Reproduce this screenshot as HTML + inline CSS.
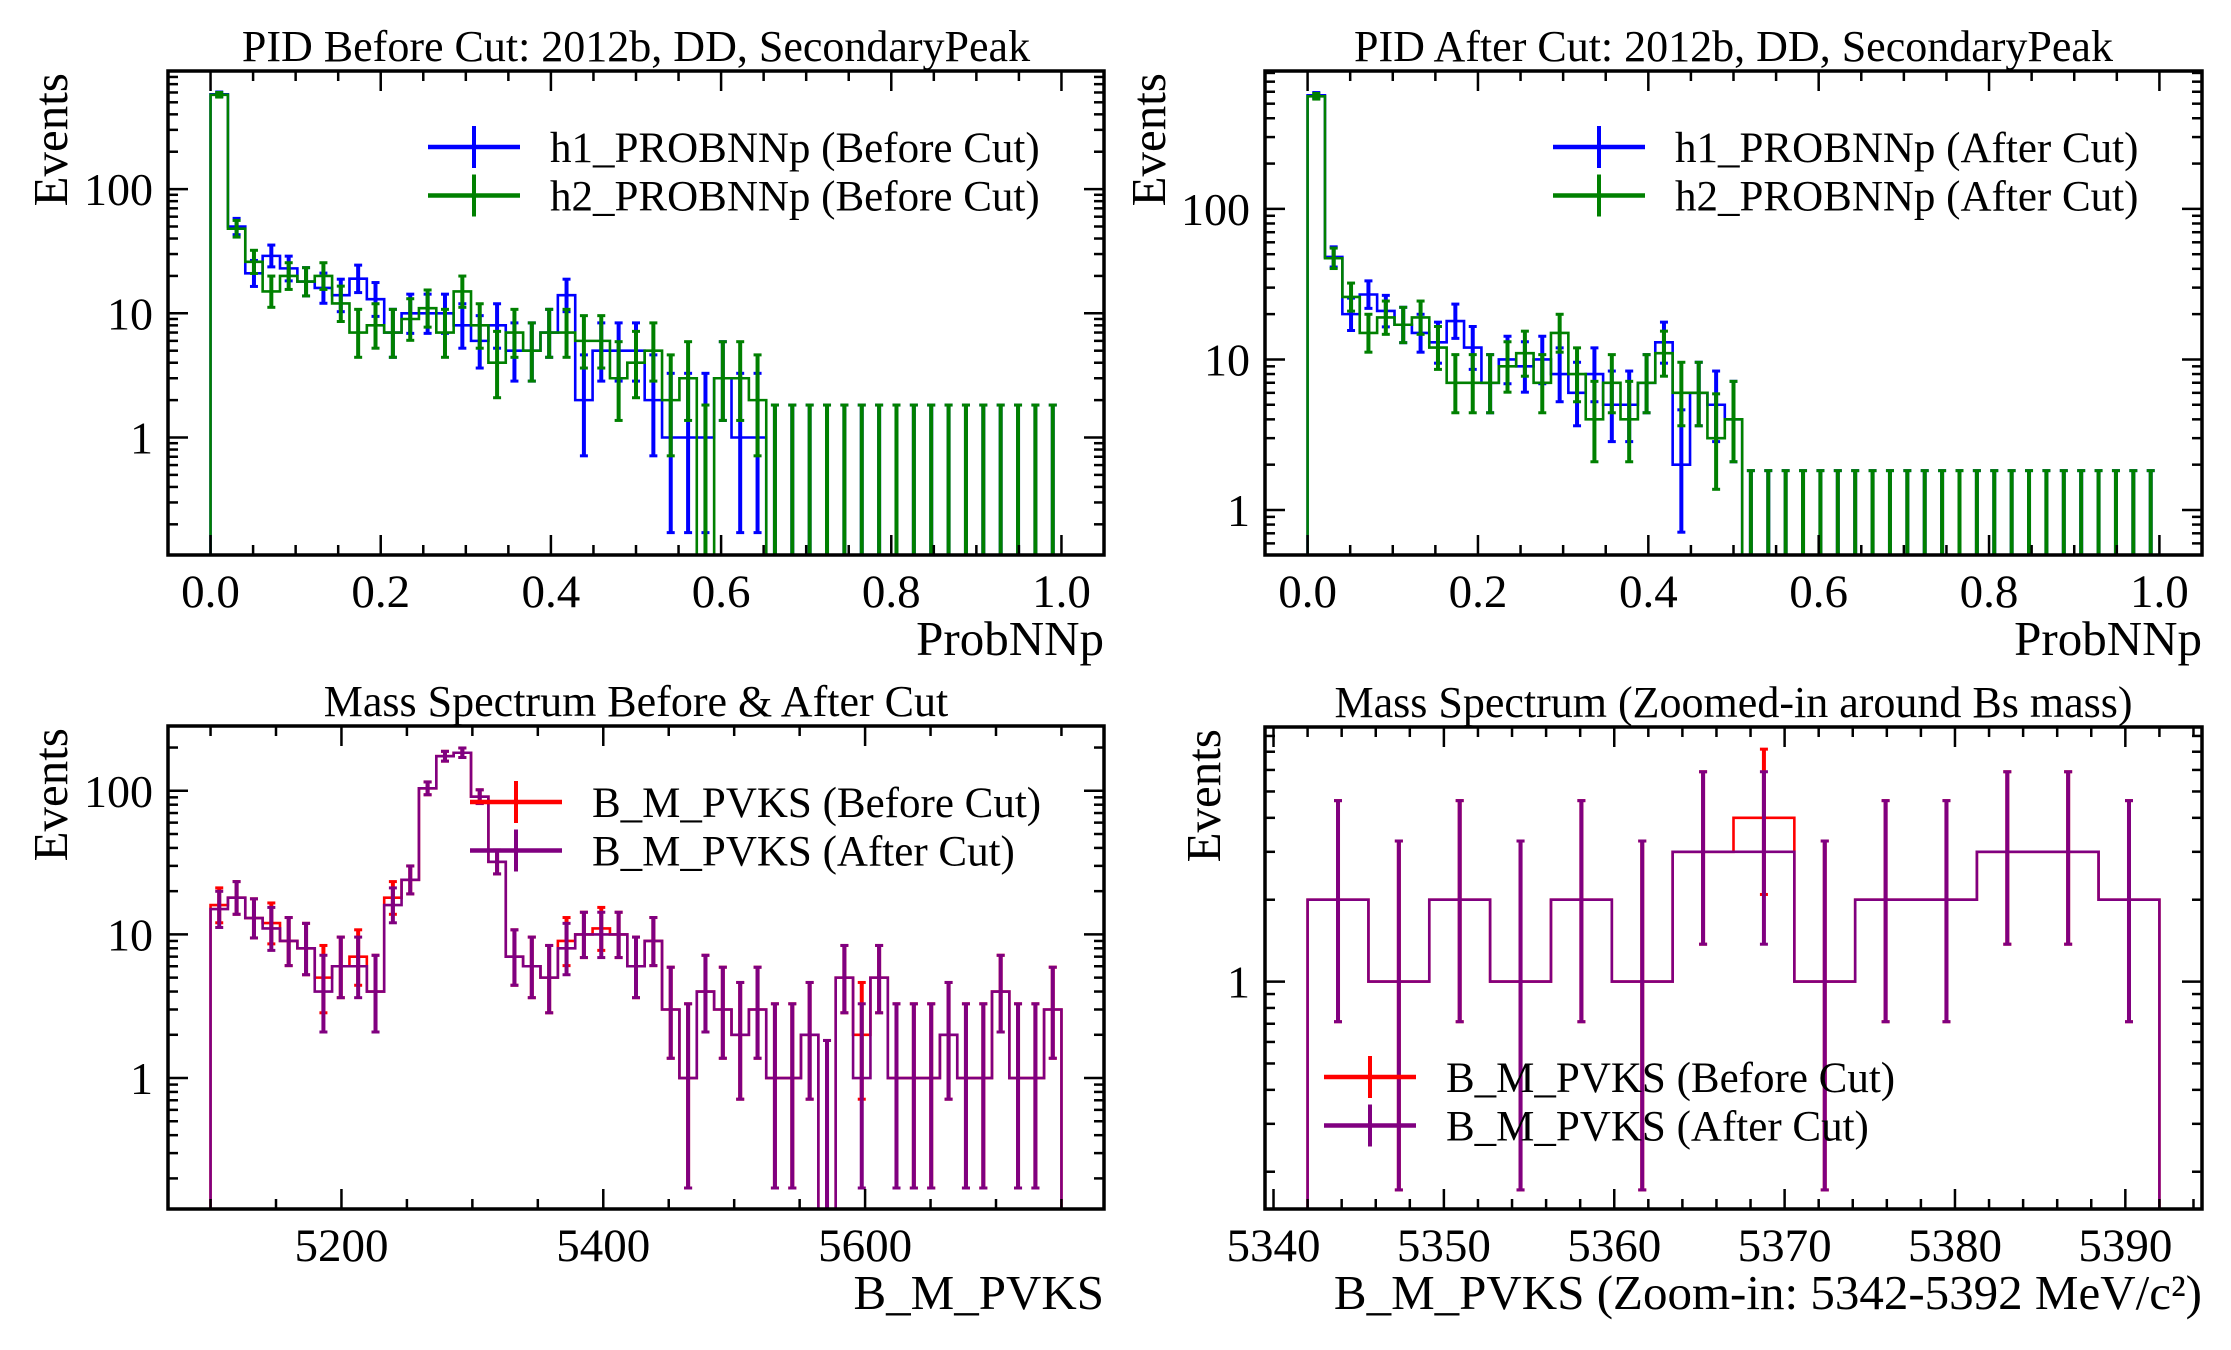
<!DOCTYPE html>
<html><head><meta charset="utf-8"><title>PID and mass spectrum histograms</title>
<style>
html,body{margin:0;padding:0;background:#fff;}
svg{display:block;font-family:"Liberation Serif","DejaVu Serif",serif;}
</style></head>
<body>
<svg id="fig" width="2231" height="1350" viewBox="0 0 2231 1350" xmlns="http://www.w3.org/2000/svg"></svg>
<script>
// ---------- DATA ----------
const pidEdgesRange = [0, 1];
const tlH1 = [580,50,21,29,23,18,16,14,19,13,7,10,10,10,8,6,8,5,5,7,14,2,5,5,5,2,1,1,1,3,1,1,0,0,0,0,0,0,0,0,0,0,0,0,0,0,0,0,0];
const tlH2 = [575,48,26,15,20,18,20,12,7,8,7,9,11,7,15,8,4,7,5,7,7,6,6,3,4,5,2,3,0,3,3,2,0,0,0,0,0,0,0,0,0,0,0,0,0,0,0,0,0];
const trH1 = [568,48,20,27,21,17,15,13,18,12,7,10,9,10,8,6,8,5,5,7,13,2,6,5,4,0,0,0,0,0,0,0,0,0,0,0,0,0,0,0,0,0,0,0,0,0,0,0,0];
const trH2 = [560,47,26,15,19,17,19,12,7,7,7,9,11,7,15,8,4,7,4,7,11,6,6,3,4,0,0,0,0,0,0,0,0,0,0,0,0,0,0,0,0,0,0,0,0,0,0,0,0];
const massRange = [5100, 5750];
const blBefore = [16,18,13,12,9,8,5,6,7,4,18,24,104,174,184,91,32,7,6,5,9,10,11,10,6,9,3,1,4,3,2,3,1,1,2,0,5,2,5,1,1,1,2,1,1,4,1,1,3];
const blAfter  = [15,18,13,11,9,8,4,6,6,4,16,24,104,174,184,91,32,7,6,5,8,10,10,10,6,9,3,1,4,3,2,3,1,1,2,0,5,1,5,1,1,1,2,1,1,4,1,1,3];
const zoomRange = [5342, 5392];
const brBefore = [2,1,2,1,2,1,3,4,1,2,2,3,3,2];
const brAfter  = [2,1,2,1,2,1,3,3,1,2,2,3,3,2];
const pidXTicks = [0,0.2,0.4,0.6,0.8,1.0];
const pidXTickLabels = ["0.0","0.2","0.4","0.6","0.8","1.0"];
const massXTicks = [5200,5400,5600];
const massXTickLabels = ["5200","5400","5600"];
const zoomXTicks = [5340,5350,5360,5370,5380,5390];
const zoomXTickLabels = ["5340","5350","5360","5370","5380","5390"];
const logYTicks = [1,10,100];
const logYTickLabels = ["1","10","100"];
const zoomYTicks = [1];
const zoomYTickLabels = ["1"];

// ---------- helpers ----------
const NS = "http://www.w3.org/2000/svg";
const svg = document.getElementById('fig');
function mk(tag, attrs, parent){
  const e = document.createElementNS(NS, tag);
  for (const k in attrs) e.setAttribute(k, attrs[k]);
  (parent||svg).appendChild(e);
  return e;
}
function gLo(n){ if(n<=0) return 0; return n*Math.pow(1-1/(9*n)-1/(3*Math.sqrt(n)),3); }
function gHi(n){ const m=n+1; return m*Math.pow(1-1/(9*m)+1/(3*Math.sqrt(m)),3); }

function panel(cfg){
  const g = mk('g', {});
  
  
  const {x0,x1,y0,y1,xmin,xmax,lmin,lmax} = cfg;
  const X = v => x0 + (v-xmin)/(xmax-xmin)*(x1-x0);
  const Y = v => v<=0 ? y1+50 : y1 - (Math.log10(v)-lmin)/(lmax-lmin)*(y1-y0);
  const clipId = cfg.name+'-clip';
  const defs = mk('defs', {}, g);
  const cp = mk('clipPath', {id: clipId}, defs);
  mk('rect', {x:x0, y:y0, width:x1-x0, height:y1-y0}, cp);
  const plot = mk('g', {'clip-path':'url(#'+clipId+')'}, g);
  
  

  cfg.series.forEach(s => {
    const n = s.values.length;
    const lo = s.range[0], hi = s.range[1], bw = (hi-lo)/n;
    let d = 'M'+X(lo)+','+Y(0);
    for (let i=0;i<n;i++){
      const ya = Y(s.values[i]);
      d += ' L'+X(lo+i*bw)+','+ya+' L'+X(lo+(i+1)*bw)+','+ya;
    }
    d += ' L'+X(hi)+','+Y(0);
    const p = mk('path', {d:d, fill:'none', stroke:s.color, 'stroke-width':2.6}, plot);
    
    
    const eg = mk('g', {stroke:s.color, 'stroke-width':4}, plot);
    
    
    for (let i=0;i<n;i++){
      const v = s.values[i];
      const cx = X(lo+(i+0.5)*bw);
      const yl = gLo(v)>0 ? Y(gLo(v)) : y1+50;
      const yh = Y(gHi(v));
      mk('line', {x1:cx, x2:cx, y1:yl, y2:yh}, eg);
      mk('line', {x1:cx-4, x2:cx+4, y1:yh, y2:yh, 'stroke-width':3}, eg);
      if (gLo(v)>0) mk('line', {x1:cx-4, x2:cx+4, y1:yl, y2:yl, 'stroke-width':3}, eg);
    }
  });

  const fr = mk('rect', {x:x0, y:y0, width:x1-x0, height:y1-y0, fill:'none', stroke:'#000', 'stroke-width':3.5}, g);
  
  

  const tg = mk('g', {stroke:'#000', 'stroke-width':2.5}, g);
  
  
  for (let v = Math.ceil(xmin/cfg.xminor)*cfg.xminor; v<=xmax+1e-9; v+=cfg.xminor){
    const isMaj = Math.abs(v/cfg.xmajor - Math.round(v/cfg.xmajor))<1e-6;
    const L = isMaj?20:10, xx = X(v);
    mk('line', {x1:xx,x2:xx,y1:y1,y2:y1-L}, tg);
    mk('line', {x1:xx,x2:xx,y1:y0,y2:y0+L}, tg);
  }
  for (let dec = Math.floor(lmin); dec <= Math.ceil(lmax); dec++){
    for (let m=1;m<=9;m++){
      const v = m*Math.pow(10,dec), lv = Math.log10(v);
      if (lv<lmin||lv>lmax) continue;
      const L = m===1?20:10, yy = Y(v);
      mk('line', {x1:x0,x2:x0+L,y1:yy,y2:yy}, tg);
      mk('line', {x1:x1,x2:x1-L,y1:yy,y2:yy}, tg);
    }
  }
  cfg.xTicks.forEach((v,i)=>{
    const t = mk('text', {x:X(v), y:y1+52, 'font-size':47, 'text-anchor':'middle'}, g);
    t.textContent = cfg.xTickLabels[i];
    
    
  });
  cfg.yTicks.forEach((v,i)=>{
    const t = mk('text', {x:x0-15, y:Y(v)+16, 'font-size':46, 'text-anchor':'end'}, g);
    t.textContent = cfg.yTickLabels[i];
    
    
  });
  const tt = mk('text', {x:(x0+x1)/2, y:y0-10, 'font-size':44, 'text-anchor':'middle'}, g);
  tt.textContent = cfg.title;
  
  
  const xl = mk('text', {x:x1, y:y1+100, 'font-size':49, 'text-anchor':'end'}, g);
  xl.textContent = cfg.xlabel;
  
  
  const yl = mk('text', {x:cfg.ylabelX, y:y0+2, 'font-size':49, 'text-anchor':'end', transform:'rotate(-90 '+cfg.ylabelX+' '+(y0+2)+')'}, g);
  yl.textContent = 'Events';
  
  

  const lg = mk('g', {}, g);
  
  
  cfg.series.forEach((s,i)=>{
    const cy = cfg.legY + i*48.5, hx = cfg.legX;
    const e = mk('g', {}, lg);
    
    
    mk('line', {x1:hx, x2:hx+92, y1:cy, y2:cy, stroke:s.color, 'stroke-width':4.5}, e);
    mk('line', {x1:hx+46, x2:hx+46, y1:cy-21, y2:cy+21, stroke:s.color, 'stroke-width':4}, e);
    const t = mk('text', {x:hx+122, y:cy+15, 'font-size':43}, e);
    t.textContent = s.label;
  });
}

panel({name:'pid-before-panel', x0:168,x1:1104,y0:71,y1:555, xmin:-0.05,xmax:1.05, lmin:-0.946,lmax:2.951,
  xmajor:0.2, xminor:0.05, xTicks:pidXTicks, xTickLabels:pidXTickLabels, yTicks:logYTicks, yTickLabels:logYTickLabels,
  title:'PID Before Cut: 2012b, DD, SecondaryPeak', xlabel:'ProbNNp', ylabelX:67, legX:428, legY:147,
  series:[{key:'h1-before', values:tlH1, range:pidEdgesRange, color:'#0000ff', label:'h1_PROBNNp (Before Cut)'},
          {key:'h2-before', values:tlH2, range:pidEdgesRange, color:'#008000', label:'h2_PROBNNp (Before Cut)'}]});
panel({name:'pid-after-panel', x0:1265,x1:2202,y0:71,y1:555, xmin:-0.05,xmax:1.05, lmin:-0.299,lmax:2.916,
  xmajor:0.2, xminor:0.05, xTicks:pidXTicks, xTickLabels:pidXTickLabels, yTicks:logYTicks, yTickLabels:logYTickLabels,
  title:'PID After Cut: 2012b, DD, SecondaryPeak', xlabel:'ProbNNp', ylabelX:1165, legX:1553, legY:147,
  series:[{key:'h1-after', values:trH1, range:pidEdgesRange, color:'#0000ff', label:'h1_PROBNNp (After Cut)'},
          {key:'h2-after', values:trH2, range:pidEdgesRange, color:'#008000', label:'h2_PROBNNp (After Cut)'}]});
panel({name:'mass-spectrum-panel', x0:168,x1:1104,y0:726,y1:1209, xmin:5067.5,xmax:5782.5, lmin:-0.912,lmax:2.451,
  xmajor:200, xminor:50, xTicks:massXTicks, xTickLabels:massXTickLabels, yTicks:logYTicks, yTickLabels:logYTickLabels,
  title:'Mass Spectrum Before & After Cut', xlabel:'B_M_PVKS', ylabelX:67, legX:470, legY:802,
  series:[{key:'mass-before', values:blBefore, range:massRange, color:'#ff0000', label:'B_M_PVKS (Before Cut)'},
          {key:'mass-after', values:blAfter, range:massRange, color:'#800080', label:'B_M_PVKS (After Cut)'}]});
panel({name:'mass-zoom-panel', x0:1265,x1:2202,y0:727,y1:1209, xmin:5339.5,xmax:5394.5, lmin:-0.836,lmax:0.936,
  xmajor:10, xminor:2, xTicks:zoomXTicks, xTickLabels:zoomXTickLabels, yTicks:zoomYTicks, yTickLabels:zoomYTickLabels,
  title:'Mass Spectrum (Zoomed-in around Bs mass)', xlabel:'B_M_PVKS (Zoom-in: 5342-5392 MeV/c²)', ylabelX:1220, legX:1324, legY:1077,
  series:[{key:'zoom-before', values:brBefore, range:zoomRange, color:'#ff0000', label:'B_M_PVKS (Before Cut)'},
          {key:'zoom-after', values:brAfter, range:zoomRange, color:'#800080', label:'B_M_PVKS (After Cut)'}]});
</script>
</body></html>
